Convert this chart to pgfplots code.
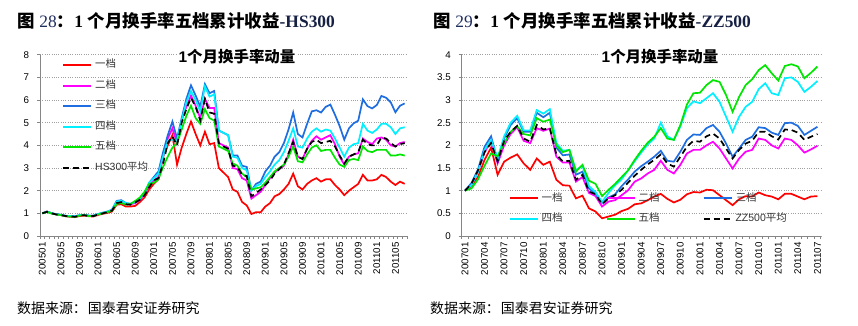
\documentclass[border=0pt]{standalone}
\usepackage{pgfplots}
\pgfplotsset{compat=1.18}
\usepackage{pgfplotstable}
\usepackage{fontspec}
\setmainfont{Liberation Sans}
\newfontfamily\cjk{Noto Sans CJK SC}
\newfontfamily\tnr{Liberation Serif}

\definecolor{cRed}{RGB}{255,0,0}
\definecolor{cMag}{RGB}{255,0,255}
\definecolor{cBlue}{RGB}{30,110,225}
\definecolor{cCyan}{RGB}{0,240,255}
\definecolor{cGreen}{RGB}{0,230,0}
\definecolor{gridc}{RGB}{160,160,160}
\definecolor{axc}{RGB}{134,134,134}
\definecolor{navy}{RGB}{31,45,95}

\pgfplotstableread{
i r m b c g k
0 1.00 1.00 1.00 1.00 1.00 1.00
1 1.08 1.07 1.08 1.07 1.06 1.07
2 1.00 1.00 1.01 1.01 0.99 1.00
3 0.95 0.96 0.96 0.96 0.95 0.95
4 0.92 0.93 0.94 0.94 0.92 0.93
5 0.87 0.88 0.89 0.89 0.87 0.88
6 0.85 0.87 0.88 0.88 0.86 0.87
7 0.83 0.86 0.87 0.87 0.84 0.85
8 0.88 0.91 0.92 0.92 0.90 0.90
9 0.90 0.93 0.94 0.93 0.92 0.92
10 0.87 0.89 0.90 0.90 0.88 0.88
11 0.86 0.89 0.90 0.90 0.88 0.88
12 0.93 0.96 0.97 0.97 0.95 0.95
13 0.98 1.01 1.03 1.02 1.00 1.00
14 1.02 1.06 1.08 1.07 1.05 1.05
15 1.08 1.14 1.16 1.15 1.12 1.12
16 1.38 1.50 1.55 1.52 1.42 1.45
17 1.40 1.52 1.58 1.55 1.45 1.50
18 1.30 1.42 1.45 1.45 1.38 1.40
19 1.30 1.40 1.42 1.42 1.42 1.38
20 1.33 1.45 1.50 1.50 1.55 1.48
21 1.50 1.60 1.65 1.65 1.70 1.60
22 1.70 1.85 1.90 1.90 1.95 1.80
23 2.05 2.20 2.35 2.35 2.30 2.15
24 2.30 2.45 2.60 2.55 2.35 2.45
25 2.50 2.60 2.85 2.75 2.50 2.55
26 3.50 3.50 3.70 3.50 3.05 3.20
27 4.00 4.30 4.45 4.20 3.50 4.10
28 4.45 4.75 5.05 4.25 3.90 4.40
29 3.15 4.10 4.30 4.20 4.10 4.00
30 3.90 5.10 5.20 5.10 4.70 5.00
31 4.50 5.70 6.05 5.90 5.30 5.60
32 5.05 6.20 6.65 6.40 5.75 6.10
33 4.50 5.75 6.20 6.00 5.20 5.70
34 4.00 5.20 5.70 5.50 4.95 5.10
35 4.60 6.05 6.70 6.60 5.60 6.05
36 4.05 5.65 6.30 6.15 5.20 5.45
37 4.10 5.65 6.40 6.25 5.10 5.40
38 3.00 4.10 4.65 4.65 3.95 4.10
39 2.80 4.00 4.55 4.55 3.85 3.95
40 2.60 3.90 4.45 4.45 3.75 3.85
41 2.05 3.00 3.55 3.50 3.20 3.10
42 1.95 2.95 3.55 3.45 3.10 3.05
43 1.50 2.55 3.10 3.00 2.75 2.70
44 1.35 2.45 3.05 2.90 2.60 2.65
45 0.97 1.65 2.00 2.00 2.05 1.75
46 1.05 1.80 2.30 2.20 2.10 1.90
47 1.05 1.95 2.40 2.30 2.15 2.05
48 1.30 2.25 2.85 2.60 2.35 2.25
49 1.45 2.55 3.10 2.85 2.60 2.45
50 1.75 2.80 3.50 3.15 2.85 2.75
51 1.85 2.95 3.70 3.35 3.00 2.95
52 2.05 3.10 4.10 3.70 3.15 3.15
53 2.30 3.60 4.70 4.20 3.50 3.65
54 2.75 4.25 5.45 4.75 3.95 4.15
55 2.20 3.50 4.50 3.95 3.30 3.50
56 2.05 3.40 4.35 3.90 3.25 3.40
57 2.30 3.85 4.95 4.30 3.60 3.85
58 2.45 4.20 5.50 4.60 3.90 4.15
59 2.55 4.40 5.55 4.75 4.00 4.25
60 2.40 4.25 5.45 4.60 3.75 4.10
61 2.50 4.35 5.70 4.70 3.80 4.15
62 2.50 4.45 5.80 4.65 3.80 4.20
63 2.25 4.05 5.35 4.30 3.45 3.95
64 2.05 3.50 4.85 3.90 3.15 3.55
65 1.80 3.15 4.25 3.50 3.05 3.20
66 2.00 3.50 4.75 3.90 3.35 3.50
67 2.15 3.60 4.97 4.05 3.40 3.60
68 2.30 3.65 5.09 4.10 3.35 3.70
69 2.70 4.30 6.03 4.95 3.95 4.25
70 2.45 4.15 5.73 4.65 3.75 4.05
71 2.45 4.05 5.63 4.55 3.70 4.00
72 2.50 4.30 5.78 4.70 3.80 4.00
73 2.70 4.35 6.18 4.95 3.80 4.35
74 2.60 4.25 6.10 4.95 3.80 4.30
75 2.40 4.00 5.90 4.80 3.55 4.10
76 2.25 3.95 5.46 4.50 3.55 3.95
77 2.40 4.10 5.75 4.75 3.60 4.05
78 2.30 4.15 5.85 4.80 3.55 4.10
}\hsdata

\pgfplotstableread{
j r m b c g k
0 1.00 1.00 1.00 1.00 1.00 1.00
1 1.10 1.12 1.17 1.12 1.05 1.15
2 1.30 1.42 1.47 1.42 1.25 1.45
3 1.68 1.85 1.97 1.90 1.55 1.85
4 1.95 2.10 2.20 2.12 1.82 2.05
5 1.35 1.60 1.65 1.72 1.76 1.65
6 1.64 2.00 2.15 2.20 2.05 2.10
7 1.73 2.25 2.45 2.50 2.30 2.30
8 1.80 2.40 2.60 2.65 2.42 2.43
9 1.60 2.10 2.30 2.33 2.25 2.15
10 1.46 2.05 2.30 2.33 2.22 2.08
11 1.71 2.38 2.72 2.78 2.60 2.45
12 1.57 2.32 2.62 2.70 2.52 2.35
13 1.64 2.37 2.72 2.80 2.57 2.38
14 1.24 1.75 1.95 2.05 2.00 1.80
15 1.12 1.62 1.78 1.88 1.85 1.64
16 1.11 1.62 1.80 1.90 1.90 1.66
17 0.83 1.20 1.35 1.45 1.42 1.24
18 0.89 1.30 1.42 1.55 1.57 1.35
19 0.61 0.95 1.05 1.10 1.22 0.98
20 0.54 0.88 0.93 0.97 1.15 0.92
21 0.39 0.65 0.73 0.75 0.88 0.70
22 0.43 0.76 0.85 0.95 1.02 0.83
23 0.47 0.79 0.92 1.12 1.15 0.90
24 0.55 0.90 1.10 1.25 1.30 1.02
25 0.60 1.01 1.25 1.45 1.45 1.18
26 0.70 1.20 1.42 1.65 1.68 1.33
27 0.72 1.27 1.54 1.84 1.88 1.46
28 0.79 1.38 1.64 2.02 2.06 1.58
29 0.87 1.46 1.75 2.15 2.19 1.68
30 0.93 1.66 1.88 2.50 2.38 1.80
31 0.82 1.46 1.66 2.20 2.15 1.60
32 0.74 1.38 1.64 2.12 2.12 1.53
33 0.80 1.57 1.86 2.42 2.45 1.75
34 0.92 1.82 2.12 2.82 2.90 1.97
35 0.97 1.90 2.24 2.97 3.15 2.10
36 0.96 1.90 2.23 2.93 3.16 2.08
37 1.02 2.00 2.38 3.04 3.33 2.20
38 1.01 2.08 2.45 3.15 3.44 2.26
39 0.90 1.93 2.30 2.96 3.40 2.15
40 0.79 1.71 2.04 2.63 3.11 1.93
41 0.68 1.49 1.75 2.30 2.74 1.71
42 0.81 1.71 1.93 2.63 3.07 1.90
43 0.88 1.86 2.12 2.85 3.33 2.04
44 0.87 1.90 2.19 2.96 3.46 2.10
45 0.96 2.15 2.40 3.24 3.66 2.30
46 0.90 2.12 2.38 3.37 3.77 2.30
47 0.87 2.00 2.28 3.15 3.59 2.20
48 0.81 1.93 2.23 3.11 3.43 2.13
49 0.93 2.15 2.49 3.48 3.75 2.35
50 0.93 2.12 2.50 3.50 3.79 2.34
51 0.87 2.00 2.43 3.40 3.74 2.28
52 0.81 1.84 2.23 3.18 3.48 2.12
53 0.87 1.91 2.32 3.29 3.60 2.19
54 0.88 1.99 2.41 3.42 3.74 2.25
}\zzdata

\pgfplotsset{
  base/.style={
    scale only axis, anchor=south west,
    axis x line*=bottom, axis y line*=left,
    axis line style={axc, line width=0.8bp},
    tick style={axc, line width=0.6bp},
    tick align=outside,
    major tick length=3bp, minor tick length=3bp,
    major x tick style={draw=none},
    ymajorgrids,
    grid style={gridc, line width=0.6bp, dash pattern=on 1bp off 1.3bp},
    x tick label style={rotate=90, anchor=east, font=\fontsize{9.8}{10}\selectfont},
    y tick label style={font=\fontsize{9.8}{10}\selectfont, xshift=-4.4bp},
    /pgf/number format/assume math mode=true,
    every axis plot/.append style={line width=1.7bp},
    legend cell align=left,
    legend image code/.code={\draw[##1, line width=2bp] (0bp,0bp) -- (28bp,0bp);},
    legend style={draw=none, fill=none, inner sep=0pt, row sep=9bp,
      font=\fontsize{10.5}{11}\selectfont\color{black!80},
      nodes={inner xsep=3bp, inner ysep=1bp, text height=7.5bp, text depth=2bp}},
  }
}

\begin{document}
\begin{tikzpicture}[x=1bp,y=1bp]
\path[use as bounding box] (0,0) rectangle (858,325);

\begin{axis}[base,
  at={(40bp,89bp)}, width=367bp, height=181.3bp,
  xmin=-0.5, xmax=78.5, ymin=0, ymax=8, ytick={0,1,...,8},
  xtick={0,4,...,76},
  xticklabels={200501,200505,200509,200601,200605,200609,200701,200705,200709,200801,200805,200809,200901,200905,200909,201001,201005,201009,201101,201105},
  minor xtick={-0.5,0.5,...,78.5},
  legend style={at={(axis description cs:0.06,0.975)}, anchor=north west},
]
\addplot[cRed] table[x=i,y=r]{\hsdata}; \addlegendentry{\cjk 一档}
\addplot[cMag] table[x=i,y=m]{\hsdata}; \addlegendentry{\cjk 二档}
\addplot[cBlue] table[x=i,y=b]{\hsdata}; \addlegendentry{\cjk 三档}
\addplot[cCyan] table[x=i,y=c]{\hsdata}; \addlegendentry{\cjk 四档}
\addplot[cGreen] table[x=i,y=g]{\hsdata}; \addlegendentry{\cjk 五档}
\addplot[black, dash pattern=on 6bp off 4bp] table[x=i,y=k]{\hsdata}; \addlegendentry{HS300{\cjk 平均}}
\end{axis}

\begin{axis}[base,
  at={(461.7bp,89bp)}, width=359bp, height=181.3bp,
  xmin=-0.5, xmax=54.5, ymin=0, ymax=4, ytick={0,0.5,...,4},
  xtick={0,3,...,54},
  xticklabels={200701,200704,200707,200710,200801,200804,200807,200810,200901,200904,200907,200910,201001,201004,201007,201010,201101,201104,201107},
  minor xtick={-0.5,0.5,...,54.5},
  legend columns=3,
  legend style={at={(axis description cs:0.13,0.24)}, anchor=north west},
]
\addplot[cRed] table[x=j,y=r]{\zzdata}; \addlegendentry{\makebox[61bp][l]{\cjk 一档}}
\addplot[cMag] table[x=j,y=m]{\zzdata}; \addlegendentry{\makebox[61bp][l]{\cjk 二档}}
\addplot[cBlue] table[x=j,y=b]{\zzdata}; \addlegendentry{\makebox[61bp][l]{\cjk 三档}}
\addplot[cCyan] table[x=j,y=c]{\zzdata}; \addlegendentry{\makebox[61bp][l]{\cjk 四档}}
\addplot[cGreen] table[x=j,y=g]{\zzdata}; \addlegendentry{\makebox[61bp][l]{\cjk 五档}}
\addplot[black, dash pattern=on 6bp off 4bp] table[x=j,y=k]{\zzdata}; \addlegendentry{\makebox[61bp][l]{ZZ500{\cjk 平均}}}
\end{axis}

% chart titles
\node[fill=white, inner xsep=2bp, inner ysep=1bp, anchor=base] at (237,263)
  {\fontsize{15.5}{16}\selectfont\bfseries 1{\cjk 个月换手率动量}};
\node[fill=white, inner xsep=2bp, inner ysep=1bp, anchor=base] at (660,263)
  {\fontsize{15.5}{16}\selectfont\bfseries 1{\cjk 个月换手率动量}};

% figure titles
\node[anchor=base west, inner sep=0pt] at (17,298)
  {\fontsize{17.5}{18}\selectfont{\cjk\bfseries 图} {\tnr\color{navy}28}{\cjk\bfseries ：}{\tnr\bfseries 1} {\cjk\bfseries 个月换手率五档累计收益}{\tnr\bfseries\color{navy!70!black}-HS300}};
\node[anchor=base west, inner sep=0pt] at (433,298)
  {\fontsize{17.5}{18}\selectfont{\cjk\bfseries 图} {\tnr\color{navy}29}{\cjk\bfseries ：}{\tnr\bfseries 1} {\cjk\bfseries 个月换手率五档累计收益}{\tnr\bfseries\color{navy!70!black}-ZZ500}};

% sources
\node[anchor=base west, inner sep=0pt] at (17,12)
  {\fontsize{14}{15}\selectfont\cjk 数据来源：\hspace{1bp}国泰君安证券研究};
\node[anchor=base west, inner sep=0pt] at (430,12)
  {\fontsize{14}{15}\selectfont\cjk 数据来源：\hspace{1bp}国泰君安证券研究};
\end{tikzpicture}
\end{document}
